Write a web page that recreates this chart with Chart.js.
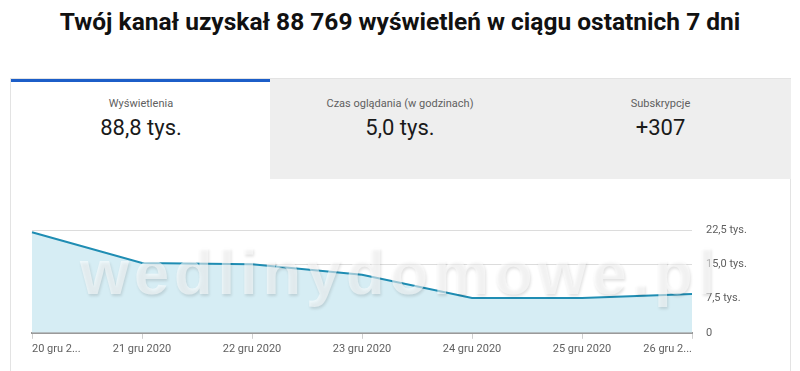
<!DOCTYPE html>
<html>
<head>
<meta charset="utf-8">
<script src="https://cdn.jsdelivr.net/npm/chart.js@4"></script>
<style>
  body { margin: 0; width: 800px; height: 371px; overflow: hidden; background: #fff; font-family: Roboto, sans-serif; position: relative; }
  h1 { position: absolute; top: 7px; left: 0; width: 800px; margin: 0; text-align: center; font-size: 24.5px; font-weight: bold; color: #111; }
  .card { position: absolute; left: 10px; top: 78px; width: 781px; height: 310px; border: 1px solid #e3e3e3; box-sizing: border-box; }
  .tab { position: absolute; top: 0; width: 260px; height: 100px; text-align: center; }
  .tab.on { left: 0; border-top: 3px solid #1c5ec8; background: #fff; box-sizing: border-box; }
  .tab.off { background: #eeeeee; }
  .lab { position: absolute; top: 18px; width: 100%; font-size: 11px; color: #606060; }
  .val { position: absolute; top: 36px; width: 100%; font-size: 22px; color: #1a1a1a; }
  .tab.on .lab { top: 15px; } .tab.on .val { top: 33px; }
  #wrap { position: absolute; left: 10px; top: 180px; width: 782px; height: 191px; }
  .wm { position: absolute; left: 0; top: 236px; width: 800px; text-align: center; font-family: "Liberation Sans", sans-serif; font-weight: bold; font-size: 63px; letter-spacing: 5px; color: rgba(255,255,255,0.55); text-shadow: 1px 2px 3px rgba(0,0,0,0.12); pointer-events: none; }
</style>
</head>
<body>
<h1>Twój kanał uzyskał 88 769 wyświetleń w ciągu ostatnich 7 dni</h1>
<div class="card">
  <div class="tab on"><div class="lab">Wyświetlenia</div><div class="val">88,8 tys.</div></div>
  <div class="tab off" style="left:259px"><div class="lab">Czas oglądania (w godzinach)</div><div class="val">5,0 tys.</div></div>
  <div class="tab off" style="left:519px;width:261px"><div class="lab">Subskrypcje</div><div class="val">+307</div></div>
</div>
<div id="wrap"><canvas id="chart"></canvas></div>
<div class="wm">wedlinydomowe.pl</div>
<script>
// dni i wyswietlenia (w tys.)
var dni = ['20 gru 2020', '21 gru 2020', '22 gru 2020', '23 gru 2020', '24 gru 2020', '25 gru 2020', '26 gru 2020'];
var etykietyDni = ['20 gru 2...', '21 gru 2020', '22 gru 2020', '23 gru 2020', '24 gru 2020', '25 gru 2020', '26 gru 2...'];
var wyswietlenia = [22.0, 15.3, 15.0, 12.7, 7.6, 7.6, 8.5];
var yTicki = [0, 7.5, 15, 22.5];
var yEtykiety = ['0', '7,5 tys.', '15,0 tys.', '22,5 tys.'];

const ctx = document.getElementById('chart').getContext('2d');

const chart = new Chart(ctx, {
    type: 'line',
    data: {
        labels: dni,
        datasets: [{
            data: wyswietlenia,
            borderColor: '#1f8db3',
            backgroundColor: '#d6edf4',
            borderWidth: 2,
            fill: 'origin',
            pointRadius: 0,
            tension: 0
        }]
    },
    options: {
        responsive: true,
        maintainAspectRatio: false,
        animation: false,
        layout: { padding: { left: 22, top: 50, bottom: 11, right: 0 } },
        plugins: { legend: { display: false }, tooltip: { enabled: false } },
        scales: {
            x: {
                offset: false,
                grid: { drawOnChartArea: false, drawTicks: true, tickLength: 6, color: '#cfcfcf' },
                border: { color: '#9a9a9a', width: 2 },
                ticks: {
                    align: 'inner',
                    maxRotation: 0,
                    autoSkip: false,
                    color: '#606060',
                    font: { family: 'Roboto', size: 11 },
                    padding: 4,
                    callback: (v, i) => etykietyDni[i]
                }
            },
            y: {
                position: 'right',
                min: 0,
                max: 22.5,
                afterBuildTicks: s => { s.ticks = yTicki.map(v => ({ value: v })); },
                afterFit: s => { s.width = 100; },
                grid: { color: '#dcdcdc', drawTicks: false },
                border: { display: false },
                ticks: {
                    color: '#606060',
                    font: { family: 'Roboto', size: 11 },
                    padding: 14,
                    callback: (v) => yEtykiety[yTicki.indexOf(v)]
                }
            }
        }
    }
});
</script>
</body>
</html>
